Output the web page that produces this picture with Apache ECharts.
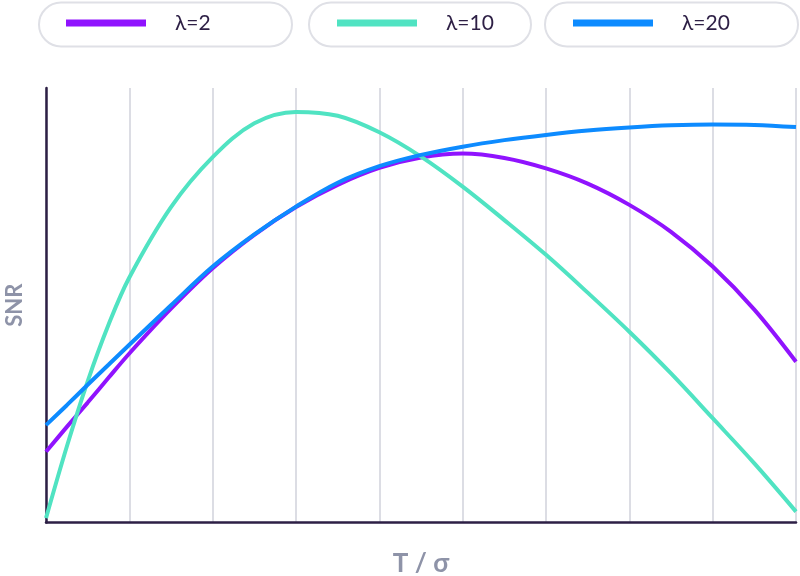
<!DOCTYPE html>
<html>
<head>
<meta charset="utf-8">
<script src="https://cdn.jsdelivr.net/npm/echarts@6/dist/echarts.min.js"></script>
<style>html,body{margin:0;padding:0;background:#fff}#c{width:800px;height:576px}</style>
</head>
<body>
<div id="c"></div>
<script>
var xs = [0, 0.25, 0.5, 0.75, 1, 1.5, 2, 2.5, 3, 3.5, 4, 4.5, 5, 5.5, 6, 6.5, 7, 7.5, 8, 8.5, 9];
var seriesNames = ['λ=2', 'λ=10', 'λ=20'];
var lambda2 = [16.3, 22.0, 27.6, 33.3, 38.9, 49.2, 58.5, 66.2, 72.6, 77.7, 81.6, 84.0, 84.9, 83.9, 81.5, 78.0, 73.1, 66.9, 58.9, 49.0, 37.0];
var lambda10 = [1.0, 17.5, 32.5, 45.5, 56.4, 72.6, 84.1, 91.9, 94.5, 93.6, 89.8, 84.2, 77.3, 69.6, 61.6, 52.9, 43.9, 34.3, 24.0, 13.6, 2.5];
var lambda20 = [22.4, 27.0, 31.7, 36.3, 40.9, 50.0, 58.9, 66.3, 72.7, 78.2, 82.0, 84.6, 86.5, 88.0, 89.2, 90.2, 90.9, 91.4, 91.6, 91.5, 91.0];
var xName = 'T / σ';
var yName = 'SNR';

var colors = ['#9013FE', '#50E3C2', '#0D8BFF'];
var values = [lambda2, lambda10, lambda20];

function pairs(v) { return xs.map(function (x, i) { return [x, v[i]]; }); }

var chart = echarts.init(document.getElementById('c'), null, {renderer: 'canvas'});
var fontFam = 'Lato, "Noto Sans", sans-serif';
var legendLefts = [66, 337, 573];
var boxes = [[38, 253], [308, 222], [544, 253]];

var option = {
  animation: false,
  backgroundColor: '#ffffff',
  grid: {left: 46, right: 4, top: 88, bottom: 53.5, containLabel: false, outerBoundsMode: 'none'},
  graphic: boxes.map(function (b) {
    return {type: 'rect', left: b[0], top: 1.5, z: -1,
      shape: {width: b[1], height: 44, r: 22},
      style: {fill: '#fff', stroke: '#dfe0e6', lineWidth: 2}};
  }),
  legend: seriesNames.map(function (n, i) {
    return {
      data: [n], left: legendLefts[i], top: 12, padding: 0,
      icon: 'rect', itemWidth: 80, itemHeight: 7,
      selectedMode: false,
      textStyle: {fontSize: 21, color: '#2d1f45', fontFamily: fontFam, padding: [0, 0, 0, 24], lineHeight: 22}
    };
  }),
  xAxis: {
    type: 'value', min: 0, max: 9, interval: 1,
    name: xName, nameLocation: 'middle', nameGap: 28,
    nameTextStyle: {fontSize: 26, color: '#8e93a8', fontFamily: fontFam, fontWeight: 'bold'},
    axisLine: {show: true, lineStyle: {color: '#2d1f45', width: 2.5}},
    axisTick: {show: false}, axisLabel: {show: false},
    splitLine: {show: true, lineStyle: {color: '#dcdde4', width: 2}}
  },
  yAxis: {
    type: 'value', min: 0, max: 100,
    name: yName, nameLocation: 'middle', nameGap: 20, nameRotate: 90,
    nameTextStyle: {fontSize: 22, color: '#8e93a8', fontFamily: fontFam, fontWeight: 'bold'},
    axisLine: {show: true, lineStyle: {color: '#2d1f45', width: 2.5}},
    axisTick: {show: false}, axisLabel: {show: false},
    splitLine: {show: false}
  },
  series: seriesNames.map(function (n, i) {
    return {
      name: n, type: 'line', data: pairs(values[i]), smooth: 0.35,
      showSymbol: false, symbol: 'none', color: colors[i],
      lineStyle: {width: 4, color: colors[i]}, z: 2 + i
    };
  })
};
chart.setOption(option);
</script>
</body>
</html>
